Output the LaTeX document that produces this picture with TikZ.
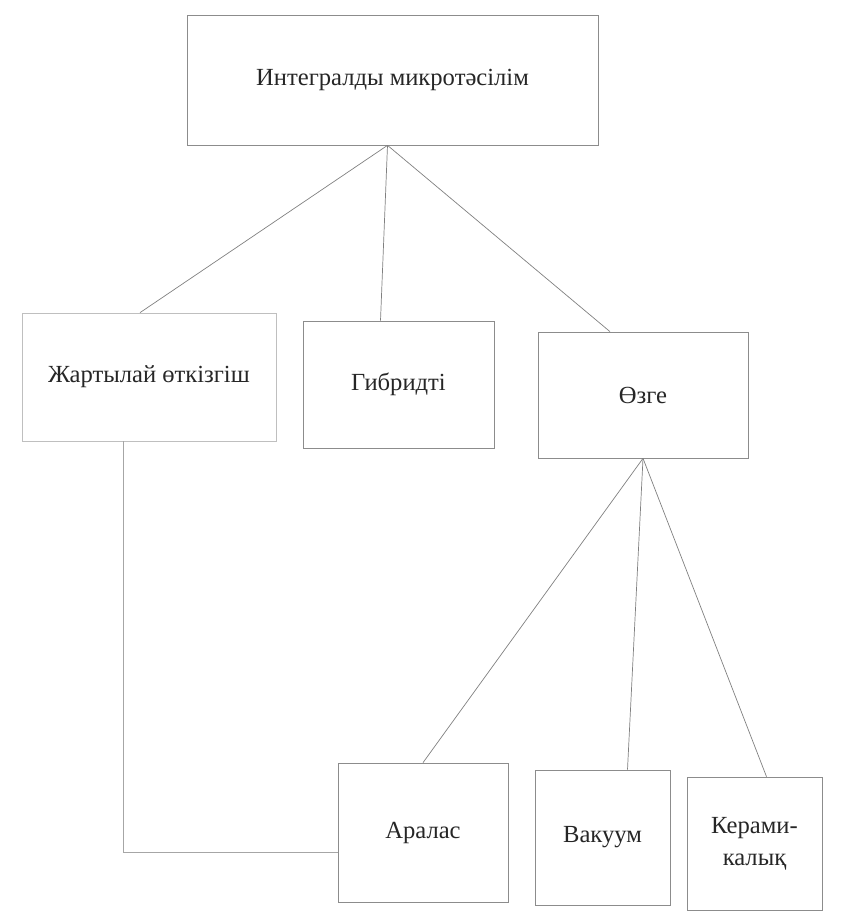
\documentclass[tikz,border=0pt]{standalone}
\usepackage{fontspec}
\setmainfont{LiberationSerif-Regular.ttf}
\usetikzlibrary{positioning, calc}

\begin{document}
\begin{tikzpicture}[
    x=0.03cm, y=-0.03cm,
    font=\fontsize{21}{27}\selectfont,
    % Boxes
    box/.style={rectangle, draw=black!45, line width=0.6pt, text=black!85, text centered, align=center, inner sep=2pt},
    % Connectors
    link/.style={draw=black!50, line width=0.6pt},
]
\useasboundingbox (0,0) rectangle (842,920);

% 1. Root
\node[box, minimum width=12.33cm, minimum height=3.9cm] (ims) at (392.5,80) {Интегралды микротәсілім};

% 2. Main kinds
\node[box, draw=black!25, minimum width=7.62cm, minimum height=3.84cm] (semi) at (149,377) {Жартылай өткізгіш};
\node[box, minimum width=5.73cm, minimum height=3.81cm] (hybrid) at (398.5,384.5) {Гибридті};
\node[box, minimum width=6.3cm, minimum height=3.78cm] (other) at (643,395) {Өзге};

% 3. Other kinds
\node[box, minimum width=5.1cm, minimum height=4.17cm] (mixed) at (423,832.5) {Аралас};
\node[box, minimum width=4.05cm, minimum height=4.05cm] (vacuum) at (602.5,837.5) {Вакуум};
\node[box, minimum width=4.05cm, minimum height=3.99cm] (ceramic) at (754.5,843.5) {Керами-\\калық};

% Connections
\draw[link] ($(ims.south)+(-5,0)$) -- ($(semi.north)+(-9,0)$);
\draw[link] ($(ims.south)+(-5,0)$) -- ($(hybrid.north)+(-18,0)$);
\draw[link] ($(ims.south)+(-5,0)$) -- ($(other.north)+(-33,0)$);

\draw[link] (other.south) -- (mixed.north);
\draw[link] (other.south) -- ($(vacuum.north)+(25,0)$);
\draw[link] (other.south) -- ($(ceramic.north)+(12,0)$);

\draw[link, draw=black!35] ($(semi.south)+(-26,0)$) |- ($(mixed.west)+(0,20)$);

\end{tikzpicture}
\end{document}
